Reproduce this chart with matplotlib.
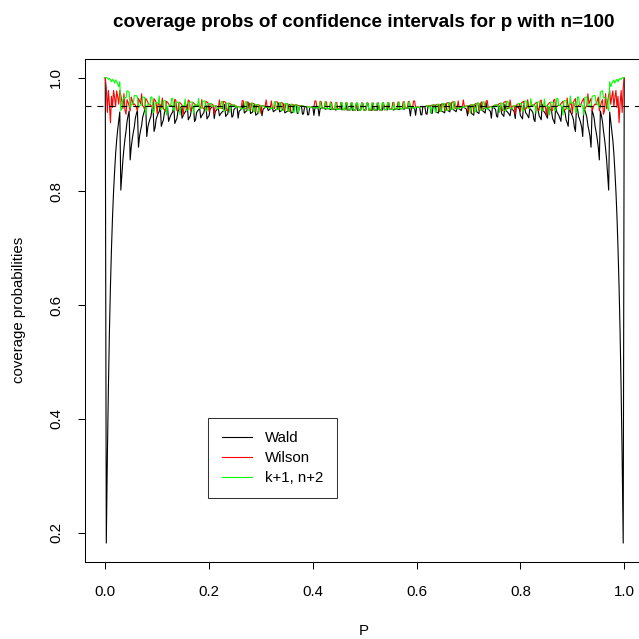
import math
import numpy as np
import matplotlib
matplotlib.use("Agg")
import matplotlib.pyplot as plt
from matplotlib.lines import Line2D

# setup of the chart: n trials, grid of true p values, 95% normal quantile
n = 100
p_grid = np.arange(0, 501) / 500.0
z = 1.959964
target = 0.95

series_names = ["Wald", "Wilson", "k+1, n+2"]
series_colors = ["black", "red", "#00ff00"]


def binom_pmf(n, p):
    k = np.arange(n + 1)
    if p == 0.0:
        return (k == 0).astype(float)
    if p == 1.0:
        return (k == n).astype(float)
    logc = np.array([math.lgamma(n + 1) - math.lgamma(j + 1) - math.lgamma(n - j + 1) for j in k])
    return np.exp(logc + k * np.log(p) + (n - k) * np.log1p(-p))


def intervals(n, z):
    k = np.arange(n + 1)
    ph = k / n
    # Wald
    se = np.sqrt(ph * (1 - ph) / n)
    wald = (ph - z * se, ph + z * se)
    # Wilson
    c = (k + z**2 / 2) / (n + z**2)
    h = z * np.sqrt(n) / (n + z**2) * np.sqrt(ph * (1 - ph) + z**2 / (4 * n))
    wilson = (c - h, c + h)
    # k+1, n+2
    pt = (k + 1) / (n + 2)
    se2 = np.sqrt(pt * (1 - pt) / (n + 2))
    plus = (pt - z * se2, pt + z * se2)
    return [wald, wilson, plus]


def coverage(lo, hi, n, ps):
    eps = 1e-9
    out = []
    for p in ps:
        w = binom_pmf(n, p)
        out.append(np.sum(w[(lo <= p + eps) & (p <= hi + eps)]))
    return np.array(out)


cis = intervals(n, z)
covs = [coverage(lo, hi, n, p_grid) for lo, hi in cis]

plt.rcParams['font.family'] = ['Liberation Sans', 'DejaVu Sans']
plt.rcParams['lines.scale_dashes'] = False

W = 639
fig = plt.figure(figsize=(6.39, 6.39), dpi=100)
# plot region in pixels (the right edge runs just past the image, as in the reference)
left, right, top, bottom = 84.5, 645.0, 59.0, 561.7
ax = fig.add_axes([left / W, 1 - bottom / W, (right - left) / W, (bottom - top) / W])

for cv, col in zip(covs, series_colors):
    ax.plot(p_grid, cv, color=col, lw=0.8)
ax.axhline(target, color='black', lw=0.8, dashes=(4.3, 4.3))

# R style 4% axis extension
xr = p_grid.max() - p_grid.min()
ax.set_xlim(p_grid.min() - 0.04 * xr, p_grid.max() + 0.04 * xr)
allc = np.concatenate(covs)
yr = allc.max() - allc.min()
ax.set_ylim(allc.min() - 0.04 * yr, allc.max() + 0.04 * yr)

ax.set_xticks([0.0, 0.2, 0.4, 0.6, 0.8, 1.0])
ax.set_xticklabels(["0.0", "0.2", "0.4", "0.6", "0.8", "1.0"])
ax.set_yticks([0.2, 0.4, 0.6, 0.8, 1.0])
ax.set_yticklabels(["0.2", "0.4", "0.6", "0.8", "1.0"], rotation=90, va='center')
ax.tick_params(axis='x', length=5, width=0.75, pad=12, labelsize=10.8)
ax.tick_params(axis='y', length=5, width=0.75, pad=10.5, labelsize=10.8)
for s in ax.spines.values():
    s.set_linewidth(0.75)

fig.text(364 / W, 1 - 27 / W, "coverage probs of confidence intervals for p with n=100",
         ha='center', va='baseline', fontsize=13.6, fontweight='bold')
fig.text(364 / W, 1 - 635 / W, "P", ha='center', va='baseline', fontsize=10.8)
fig.text(19 / W, 1 - 310 / W, "coverage probabilities", ha='center', va='center',
         rotation=90, fontsize=10.8)

handles = [Line2D([], [], color=c, lw=0.8) for c in series_colors]
leg = ax.legend(handles, series_names, loc='upper left',
                bbox_to_anchor=(208 / W, 1 - 418 / W), bbox_transform=fig.transFigure,
                fontsize=10.8, frameon=True, fancybox=False, borderpad=0.9,
                handlelength=2.0, handletextpad=0.9, labelspacing=0.38, borderaxespad=0)
leg.get_frame().set_edgecolor('black')
leg.get_frame().set_linewidth(0.75)

fig.savefig("out.png", dpi=100)
